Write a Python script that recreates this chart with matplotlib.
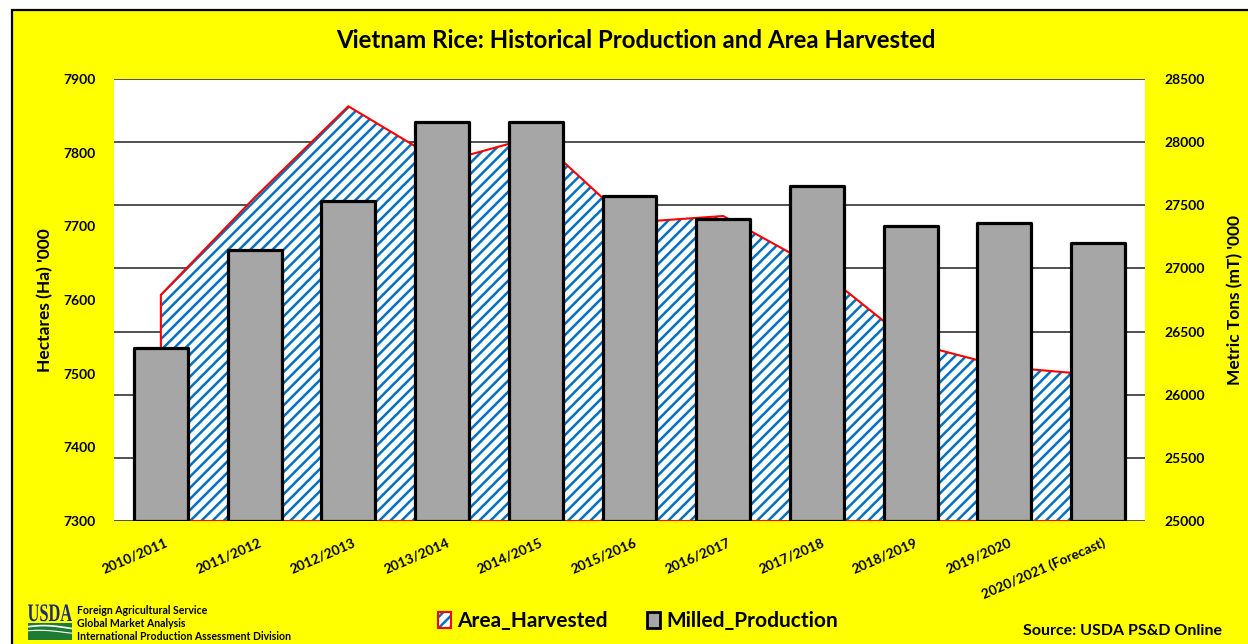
import numpy as np
import matplotlib
matplotlib.use("Agg")
import matplotlib.pyplot as plt
from matplotlib.patches import Rectangle, Patch, PathPatch
from matplotlib.legend_handler import HandlerTuple
from matplotlib.textpath import TextPath
from matplotlib.font_manager import FontProperties
import matplotlib.transforms as mtransforms

# ---------------- data ----------------
categories = ["2010/2011", "2011/2012", "2012/2013", "2013/2014", "2014/2015",
              "2015/2016", "2016/2017", "2017/2018", "2018/2019", "2019/2020",
              "2020/2021 (Forecast)"]
area_harvested = [7607, 7739, 7863, 7787, 7822, 7705, 7714, 7644, 7542, 7509, 7498]
milled_production = [26370, 27146, 27536, 28157, 28162, 27573, 27391, 27653,
                     27336, 27362, 27199]
left_ticks = [7300, 7400, 7500, 7600, 7700, 7800, 7900]
right_ticks = [25000, 25500, 26000, 26500, 27000, 27500, 28000, 28500]

title = "Vietnam Rice: Historical Production and Area Harvested"
FONT = ["Lato", "DejaVu Sans"]
plt.rcParams['font.family'] = FONT
plt.rcParams['hatch.linewidth'] = 1.8

W, H = 1248, 644
fig = plt.figure(figsize=(W / 100, H / 100), dpi=100, facecolor="white")

# yellow frame
fig.add_artist(Rectangle((12 / W, -0.05), 1.2, 1 - 10 / H + 0.05,
                         transform=fig.transFigure, facecolor="#FFFF00",
                         edgecolor="black", linewidth=1.6, zorder=0))

ax = fig.add_axes([114 / W, 1 - 521 / H, (1145 - 114) / W, (521 - 79) / H])
ax.set_facecolor("white")
ax.set_zorder(1)
ax2 = ax.twinx()
ax2.set_zorder(2)
ax2.patch.set_visible(False)

x = np.arange(len(categories))
lmin, lmax = left_ticks[0], left_ticks[-1]
rmin, rmax = right_ticks[0], right_ticks[-1]

# gridlines (aligned with right-axis ticks) drawn on the left axes, beneath the area
for t in right_ticks:
    ax.axhline(lmin + (t - rmin) * (lmax - lmin) / (rmax - rmin),
               color="#222222", linewidth=1.1, zorder=0.5)

# area (hatched)
ax.fill_between(x, area_harvested, lmin, facecolor="white", edgecolor="#0070C0",
                hatch="///", linewidth=0, zorder=1)
ax.fill_between(x, area_harvested, lmin, facecolor="none", edgecolor="#FF0000",
                linewidth=1.5, zorder=1.2)

# bars
ax2.bar(x, [v - rmin for v in milled_production], bottom=rmin, width=0.575,
        color="#A6A6A6", edgecolor="black", linewidth=2.3, joinstyle="round",
        zorder=3)

ax.set_xlim(-0.5, len(categories) - 0.5)
ax.set_ylim(lmin, lmax)
ax2.set_ylim(rmin, rmax)
ax.set_yticks(left_ticks)
ax2.set_yticks(right_ticks)
ax.set_yticklabels([str(t) for t in left_ticks], fontsize=10, fontweight="bold")
ax2.set_yticklabels([str(t) for t in right_ticks], fontsize=10, fontweight="bold")
ax.tick_params(axis="y", length=0, pad=13)
ax2.tick_params(axis="y", length=0, pad=14)

ax.set_xticks(x)
ax.set_xticklabels(categories, fontsize=9.8, fontweight="bold", rotation=23.5,
                   ha="right", va="top", rotation_mode="anchor")
ax.tick_params(axis="x", length=0, pad=11)
offset = mtransforms.ScaledTranslation(4 / 100, 0, fig.dpi_scale_trans)
for lab in ax.get_xticklabels():
    lab.set_transform(lab.get_transform() + offset)

for a in (ax, ax2):
    for s in a.spines.values():
        s.set_visible(False)

ax.set_ylabel("Hectares (Ha) '000", fontsize=12.5, fontweight="bold")
ax2.set_ylabel("Metric Tons (mT) '000", fontsize=12.5, fontweight="bold",
               rotation=90)
for a, xp in ((ax, 45), (ax2, 1235)):
    a.yaxis.set_label_coords((xp - 114) / (1145 - 114), 0.5)
    a.yaxis.label.set_verticalalignment("center")
    a.yaxis.label.set_horizontalalignment("center")

fig.text(636 / W, 1 - 40 / H, title, fontsize=17.3, fontweight="bold",
         ha="center", va="center")

# legend
h_hatch = Patch(facecolor="white", edgecolor="#0070C0", hatch="///", linewidth=0)
h_edge = Patch(facecolor="none", edgecolor="#FF0000", linewidth=1.5)
h_bar = Patch(facecolor="#A6A6A6", edgecolor="black", linewidth=2)
fig.legend([(h_hatch, h_edge), h_bar], ["Area_Harvested", "Milled_Production"],
           handler_map={tuple: HandlerTuple(ndivide=1)},
           loc="center", bbox_to_anchor=(638 / W, 1 - 621 / H), ncol=2,
           frameon=False, prop={"family": FONT, "weight": "bold", "size": 15},
           handlelength=0.6, handleheight=0.8, handletextpad=0.3,
           columnspacing=1.9)

# footer texts
fig.text(1222 / W, 1 - 631 / H, "Source: USDA PS&D Online", fontsize=11.5,
         fontweight="bold", ha="right", va="center")
for i, line in enumerate(["Foreign Agricultural Service", "Global Market Analysis",
                          "International Production Assessment Division"]):
    fig.text(77 / W, 1 - (610 + 13.5 * i) / H, line, fontsize=7.6,
             fontweight="bold", ha="left", va="center")

# USDA logo
lax = fig.add_axes([28 / W, 1 - 640 / H, 44 / W, 36 / H])
lax.set_xlim(0, 1)
lax.set_ylim(0, 1)
lax.axis("off")
tp = TextPath((0, 0), "USDA", size=10,
              prop=FontProperties(family="Liberation Serif", weight="bold"))
bb = tp.get_extents()
fit = mtransforms.Affine2D().translate(-bb.x0, -bb.y0).scale(
    1.0 / bb.width, 0.47 / bb.height).translate(0, 0.52)
lax.add_patch(PathPatch(fit.transform_path(tp), facecolor="#1E2B73",
                        edgecolor="none"))
lax.add_patch(Rectangle((0.0, 0.0), 1.0, 0.47, facecolor="#1E7B34",
                        edgecolor="none"))
xs = np.linspace(0, 1, 50)
lax.plot(xs, 0.34 + 0.06 * np.sin(xs * 3.0 + 0.5), color="white", lw=1.2)
lax.plot(xs, 0.22 + 0.05 * np.sin(xs * 3.0 + 0.8), color="white", lw=0.8)

fig.savefig("out.png", dpi=100, facecolor=fig.get_facecolor())
